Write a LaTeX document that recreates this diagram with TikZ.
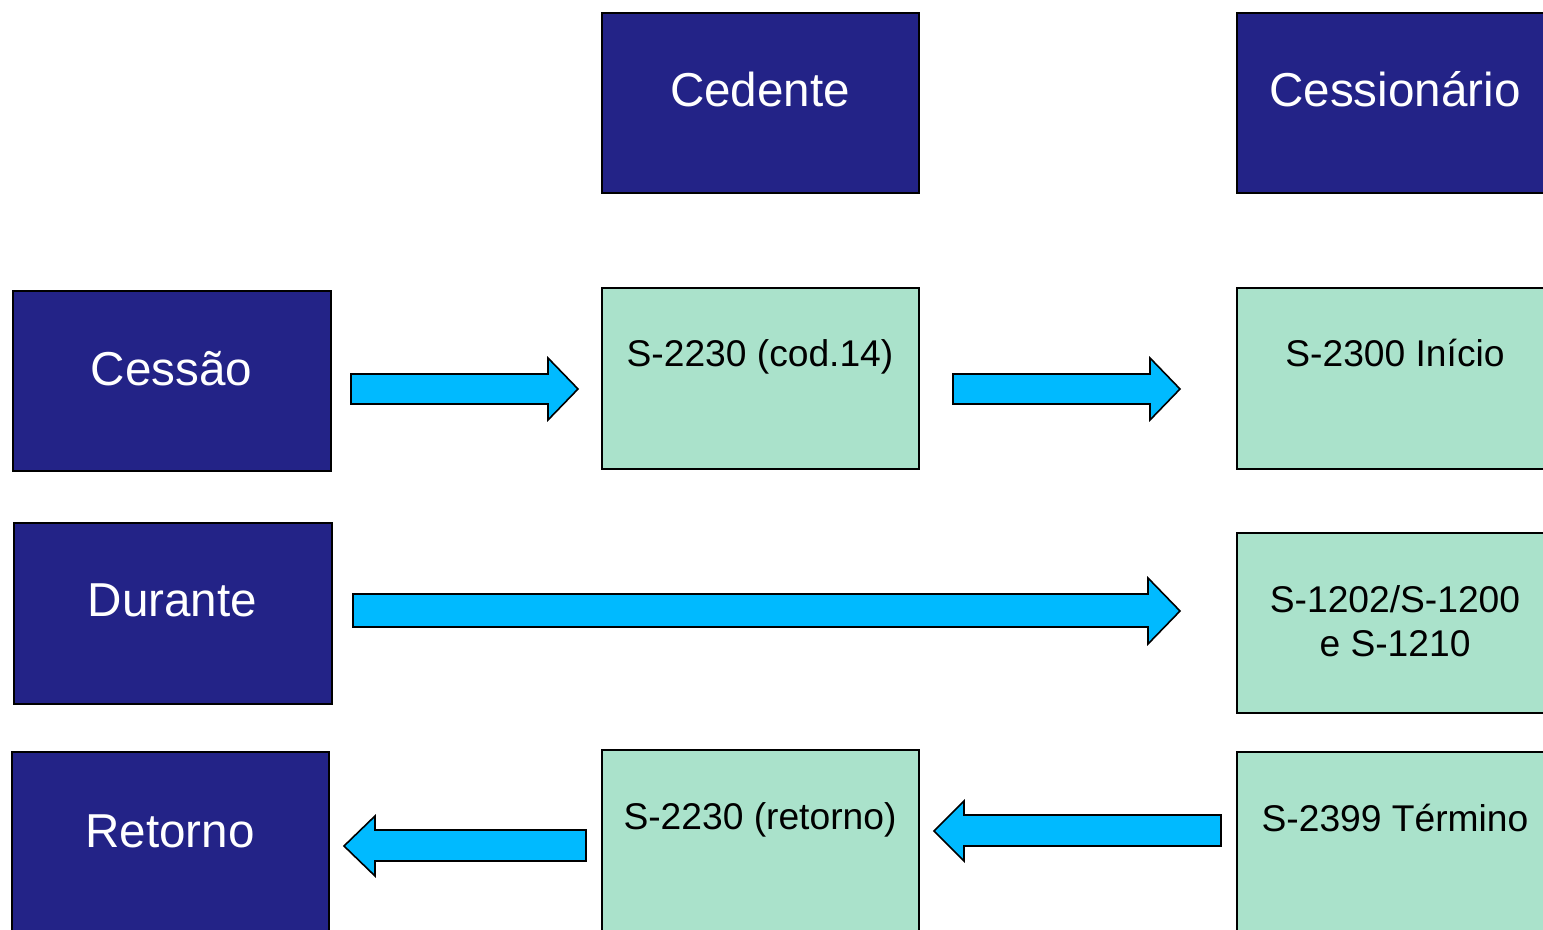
\documentclass[tikz,border=0pt]{standalone}
\usepackage{fontspec}
\setmainfont{Liberation Sans}
\definecolor{navy}{RGB}{35,35,135}
\definecolor{mint}{RGB}{170,226,203}
\definecolor{skyb}{RGB}{0,186,255}
\tikzset{
  darkbox/.style={draw=black, line width=0.9pt, fill=navy, inner sep=0pt, anchor=north west},
  lightbox/.style={draw=black, line width=0.9pt, fill=mint, inner sep=0pt, anchor=north west},
  bigtxt/.style={text=white, font=\fontsize{23.8}{28}\selectfont, inner sep=0pt, anchor=base},
  smalltxt/.style={text=black, font=\fontsize{18.6}{22}\selectfont, inner sep=0pt, anchor=base},
  blockarrow/.style={draw=black, line width=0.8pt, fill=skyb, line join=miter},
}
\begin{document}
\begin{tikzpicture}[x=0.5pt, y=-0.5pt]
\useasboundingbox (0,0) rectangle (1543,930);
\clip (0,0) rectangle (1543,930);
\fill[white] (0,0) rectangle (1543,930);
% header boxes
\node[darkbox, minimum width=158.5pt, minimum height=90pt] (ced) at (601,12) {};
\node[bigtxt] (cedT) at (760,107) {Cedente};
\node[darkbox, minimum width=158.5pt, minimum height=90pt] (ces) at (1236,12) {};
\node[bigtxt] (cesT) at (1395,107) {Cessionário};
% row labels
\node[darkbox, minimum width=159pt, minimum height=90pt] (cessao) at (12,290) {};
\node[bigtxt] (cessaoT) at (171.5,386) {Cessão};
\node[darkbox, minimum width=159pt, minimum height=90.5pt] (dur) at (13,522) {};
\node[bigtxt] (durT) at (172.5,617) {Durante};
\node[darkbox, minimum width=158.5pt, minimum height=100pt] (ret) at (11,751) {};
\node[bigtxt] (retT) at (170,847) {Retorno};
% light boxes
\node[lightbox, minimum width=158.5pt, minimum height=90.5pt] (s2230a) at (601,287) {};
\node[smalltxt] (s2230aT) at (760,367) {S-2230 (cod.14)};
\node[lightbox, minimum width=158.5pt, minimum height=90.5pt] (s2300) at (1236,287) {};
\node[smalltxt] (s2300T) at (1395,367) {S-2300 Início};
\node[lightbox, minimum width=158.5pt, minimum height=90pt] (s1202) at (1236,532) {};
\node[smalltxt] (s1202T) at (1395,612) {S-1202/S-1200};
\node[smalltxt] (s1202U) at (1395,656) {e S-1210};
\node[lightbox, minimum width=158.5pt, minimum height=100pt] (s2230b) at (601,749) {};
\node[smalltxt] (s2230bT) at (760,829) {S-2230 (retorno)};
\node[lightbox, minimum width=158.5pt, minimum height=100pt] (s2399) at (1236,751) {};
\node[smalltxt] (s2399T) at (1395,831) {S-2399 Término};
% block arrows
\draw[blockarrow] (351,374) -- (548,374) -- (548,358) -- (578,389) -- (548,420) -- (548,404) -- (351,404) -- cycle;
\draw[blockarrow] (953,374) -- (1150,374) -- (1150,358) -- (1180,389) -- (1150,420) -- (1150,404) -- (953,404) -- cycle;
\draw[blockarrow] (353,594) -- (1148,594) -- (1148,578) -- (1180,611) -- (1148,644) -- (1148,627) -- (353,627) -- cycle;
\draw[blockarrow] (1221,815) -- (964,815) -- (964,801) -- (934,831) -- (964,861) -- (964,846) -- (1221,846) -- cycle;
\draw[blockarrow] (586,830) -- (375,830) -- (375,816) -- (344,846) -- (375,876) -- (375,861) -- (586,861) -- cycle;
\end{tikzpicture}
\end{document}
